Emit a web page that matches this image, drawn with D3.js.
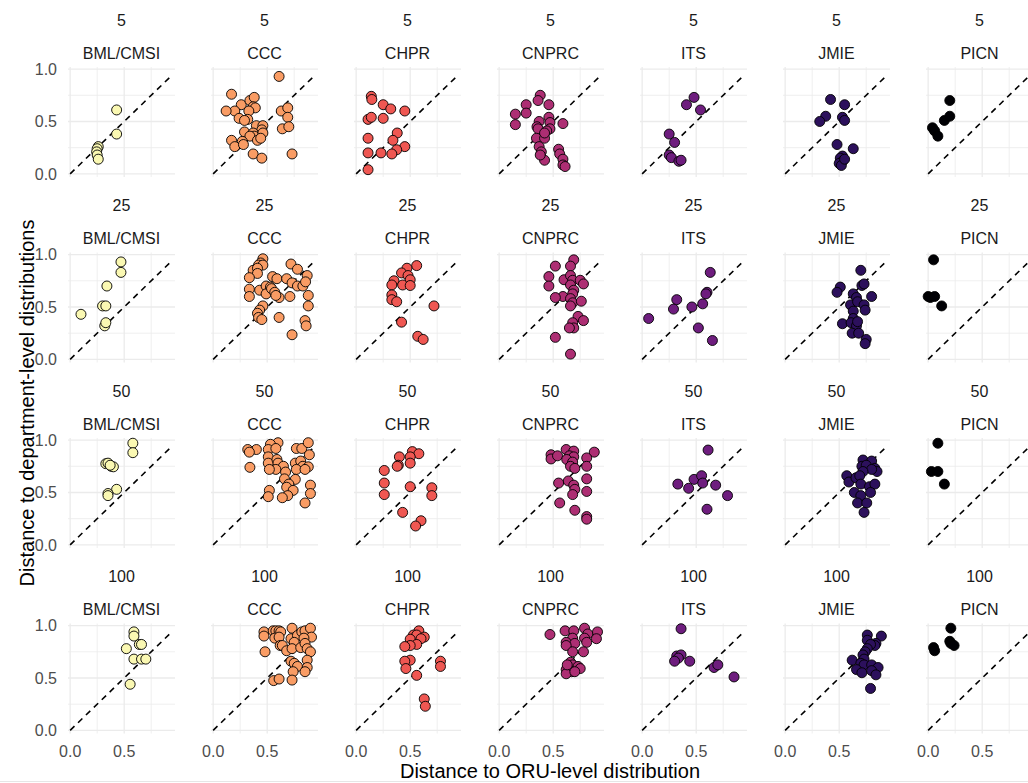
<!DOCTYPE html>
<html>
<head>
<meta charset="utf-8">
<script src="https://cdn.jsdelivr.net/npm/d3@7"></script>
<style>
  body { margin: 0; background: #fff; }
  text { font-family: "Liberation Sans", Arial, Helvetica, sans-serif; }
</style>
</head>
<body>
<svg id="chart" width="1028" height="783"></svg>
<script>
const sites = ["BML/CMSI", "CCC", "CHPR", "CNPRC", "ITS", "JMIE", "PICN"];
const levels = [5, 25, 50, 100];
const siteColors = ["#FAF8B2", "#F99C64", "#EF5752", "#AD2E73", "#6E1D7E", "#2C105C", "#000004"];
const xTicks = [0, 0.5];
const yTicks = [0, 0.5, 1];
const gridX = [0, 0.25, 0.5, 0.75];
const gridY = [0, 0.25, 0.5, 0.75, 1];

// [ORU distance, department distance] per site and level
const BML_5 = [[0.43,0.61],[0.43,0.38],[0.26,0.26],[0.25,0.24],[0.245,0.21],[0.25,0.18],[0.26,0.14]];
const CCC_5 = [[0.61,0.93],[0.17,0.76],[0.26,0.66],[0.34,0.70],[0.38,0.73],[0.37,0.64],[0.39,0.63],[0.20,0.60],[0.33,0.60],[0.12,0.60],[0.24,0.53],[0.32,0.52],[0.29,0.51],[0.63,0.60],[0.69,0.63],[0.69,0.54],[0.64,0.43],[0.70,0.45],[0.73,0.19],[0.40,0.46],[0.46,0.46],[0.45,0.42],[0.29,0.40],[0.37,0.39],[0.38,0.36],[0.34,0.36],[0.46,0.39],[0.41,0.32],[0.44,0.34],[0.17,0.32],[0.27,0.31],[0.20,0.26],[0.28,0.28],[0.37,0.19],[0.45,0.15]];
const CHPR_5 = [[0.14,0.74],[0.145,0.71],[0.25,0.66],[0.32,0.62],[0.45,0.60],[0.11,0.52],[0.14,0.54],[0.25,0.53],[0.11,0.34],[0.38,0.39],[0.34,0.32],[0.45,0.26],[0.375,0.23],[0.33,0.19],[0.23,0.20],[0.11,0.20],[0.11,0.04]];
const CNPRC_5 = [[0.38,0.75],[0.36,0.70],[0.25,0.66],[0.25,0.58],[0.46,0.66],[0.15,0.57],[0.15,0.47],[0.37,0.50],[0.46,0.54],[0.47,0.49],[0.35,0.45],[0.36,0.43],[0.47,0.43],[0.44,0.41],[0.59,0.48],[0.345,0.34],[0.42,0.34],[0.37,0.26],[0.39,0.21],[0.42,0.39],[0.55,0.235],[0.56,0.19],[0.59,0.14],[0.59,0.085],[0.61,0.07],[0.42,0.13],[0.38,0.18]];
const ITS_5 = [[0.48,0.73],[0.41,0.66],[0.54,0.61],[0.25,0.38],[0.30,0.30],[0.25,0.18],[0.27,0.155],[0.34,0.12],[0.36,0.13]];
const JMIE_5 = [[0.42,0.71],[0.55,0.66],[0.375,0.55],[0.32,0.50],[0.53,0.54],[0.55,0.51],[0.48,0.28],[0.63,0.24],[0.53,0.17],[0.51,0.15],[0.53,0.12],[0.50,0.10],[0.52,0.08],[0.55,0.14]];
const PICN_5 = [[0.20,0.70],[0.15,0.51],[0.20,0.55],[0.04,0.44],[0.06,0.41],[0.09,0.36]];

const BML_25 = [[0.47,0.93],[0.47,0.83],[0.34,0.70],[0.10,0.43],[0.30,0.51],[0.33,0.51],[0.32,0.32],[0.33,0.35]];
const CCC_25 = [[0.46,0.96],[0.44,0.92],[0.42,0.90],[0.46,0.90],[0.37,0.85],[0.41,0.87],[0.41,0.82],[0.335,0.78],[0.55,0.79],[0.59,0.77],[0.72,0.91],[0.78,0.86],[0.87,0.80],[0.68,0.77],[0.73,0.73],[0.78,0.70],[0.83,0.70],[0.855,0.74],[0.335,0.67],[0.335,0.60],[0.43,0.66],[0.49,0.70],[0.53,0.69],[0.49,0.625],[0.54,0.675],[0.57,0.64],[0.61,0.59],[0.58,0.61],[0.71,0.60],[0.88,0.61],[0.88,0.51],[0.46,0.51],[0.43,0.47],[0.41,0.44],[0.42,0.40],[0.45,0.38],[0.61,0.40],[0.85,0.37],[0.86,0.32],[0.73,0.235]];
const CHPR_25 = [[0.56,0.895],[0.47,0.87],[0.42,0.825],[0.48,0.80],[0.50,0.76],[0.35,0.75],[0.33,0.71],[0.43,0.71],[0.50,0.705],[0.33,0.615],[0.33,0.57],[0.375,0.55],[0.72,0.51],[0.42,0.355],[0.57,0.22],[0.62,0.19]];
const CNPRC_25 = [[0.69,0.95],[0.52,0.89],[0.66,0.89],[0.46,0.79],[0.60,0.76],[0.66,0.80],[0.68,0.755],[0.75,0.755],[0.78,0.72],[0.46,0.70],[0.66,0.71],[0.69,0.66],[0.68,0.625],[0.59,0.60],[0.52,0.59],[0.66,0.58],[0.68,0.54],[0.66,0.51],[0.76,0.555],[0.73,0.41],[0.78,0.37],[0.68,0.35],[0.69,0.30],[0.65,0.30],[0.52,0.21],[0.66,0.05]];
const ITS_25 = [[0.63,0.83],[0.60,0.64],[0.59,0.625],[0.32,0.57],[0.56,0.53],[0.46,0.50],[0.29,0.48],[0.06,0.39],[0.52,0.30],[0.65,0.18]];
const JMIE_25 = [[0.70,0.85],[0.71,0.705],[0.73,0.72],[0.51,0.69],[0.48,0.64],[0.63,0.625],[0.66,0.59],[0.80,0.60],[0.605,0.52],[0.67,0.55],[0.73,0.52],[0.74,0.47],[0.63,0.46],[0.63,0.39],[0.53,0.34],[0.61,0.35],[0.66,0.32],[0.67,0.36],[0.62,0.25],[0.68,0.25],[0.75,0.19],[0.74,0.15]];
const PICN_25 = [[0.05,0.95],[0.0,0.60],[0.02,0.59],[0.06,0.60],[0.125,0.51]];

const BML_50 = [[0.58,0.97],[0.58,0.88],[0.33,0.775],[0.35,0.78],[0.38,0.75],[0.40,0.745],[0.37,0.76],[0.43,0.53],[0.35,0.49],[0.35,0.47]];
const CCC_50 = [[0.60,0.975],[0.53,0.96],[0.51,0.91],[0.58,0.92],[0.40,0.91],[0.32,0.91],[0.335,0.885],[0.77,0.92],[0.82,0.92],[0.88,0.975],[0.89,0.86],[0.34,0.74],[0.51,0.84],[0.51,0.78],[0.59,0.815],[0.60,0.78],[0.65,0.75],[0.58,0.72],[0.67,0.695],[0.66,0.63],[0.76,0.78],[0.81,0.80],[0.83,0.75],[0.77,0.72],[0.88,0.745],[0.85,0.72],[0.76,0.625],[0.70,0.58],[0.68,0.55],[0.74,0.52],[0.90,0.57],[0.90,0.49],[0.69,0.47],[0.64,0.45],[0.52,0.52],[0.51,0.46],[0.85,0.40],[0.52,0.72]];
const CHPR_50 = [[0.52,0.89],[0.58,0.87],[0.50,0.84],[0.40,0.84],[0.39,0.76],[0.38,0.75],[0.50,0.78],[0.26,0.71],[0.26,0.59],[0.26,0.48],[0.50,0.555],[0.70,0.545],[0.70,0.47],[0.43,0.31],[0.60,0.23],[0.55,0.18]];
const CNPRC_50 = [[0.62,0.91],[0.69,0.895],[0.88,0.885],[0.48,0.86],[0.48,0.82],[0.54,0.85],[0.65,0.85],[0.69,0.84],[0.625,0.815],[0.68,0.79],[0.81,0.83],[0.66,0.75],[0.70,0.73],[0.81,0.75],[0.81,0.63],[0.64,0.61],[0.55,0.59],[0.69,0.57],[0.70,0.53],[0.81,0.51],[0.68,0.48],[0.56,0.40],[0.70,0.33],[0.81,0.27],[0.81,0.245]];
const ITS_50 = [[0.61,0.905],[0.33,0.58],[0.48,0.625],[0.55,0.66],[0.56,0.59],[0.43,0.54],[0.68,0.57],[0.79,0.47],[0.60,0.34]];
const JMIE_50 = [[0.72,0.81],[0.80,0.80],[0.71,0.75],[0.75,0.76],[0.83,0.73],[0.85,0.70],[0.80,0.72],[0.72,0.70],[0.57,0.66],[0.59,0.60],[0.655,0.64],[0.69,0.66],[0.70,0.58],[0.78,0.555],[0.83,0.58],[0.79,0.50],[0.64,0.50],[0.70,0.47],[0.67,0.40],[0.755,0.40],[0.73,0.31]];
const PICN_50 = [[0.09,0.97],[0.03,0.70],[0.09,0.70],[0.15,0.58]];

const BML_100 = [[0.59,0.94],[0.59,0.90],[0.52,0.78],[0.64,0.82],[0.66,0.82],[0.59,0.68],[0.66,0.68],[0.70,0.68],[0.555,0.44]];
const CCC_100 = [[0.47,0.94],[0.47,0.90],[0.555,0.95],[0.58,0.95],[0.61,0.95],[0.625,0.94],[0.57,0.88],[0.61,0.89],[0.73,0.975],[0.72,0.875],[0.78,0.905],[0.82,0.94],[0.85,0.95],[0.90,0.975],[0.91,0.89],[0.84,0.88],[0.75,0.84],[0.62,0.81],[0.64,0.81],[0.68,0.76],[0.73,0.78],[0.81,0.79],[0.85,0.83],[0.87,0.78],[0.90,0.75],[0.48,0.75],[0.72,0.66],[0.75,0.64],[0.78,0.61],[0.74,0.56],[0.87,0.67],[0.87,0.60],[0.85,0.56],[0.56,0.475],[0.61,0.49],[0.73,0.48]];
const CHPR_100 = [[0.58,0.95],[0.53,0.91],[0.56,0.91],[0.63,0.89],[0.50,0.87],[0.60,0.875],[0.56,0.82],[0.50,0.81],[0.45,0.80],[0.50,0.67],[0.45,0.66],[0.46,0.59],[0.56,0.525],[0.78,0.66],[0.78,0.61],[0.63,0.30],[0.64,0.23]];
const CNPRC_100 = [[0.47,0.915],[0.61,0.95],[0.69,0.95],[0.79,0.975],[0.82,0.92],[0.91,0.94],[0.90,0.875],[0.79,0.88],[0.68,0.88],[0.62,0.84],[0.70,0.83],[0.81,0.84],[0.62,0.81],[0.68,0.75],[0.78,0.75],[0.66,0.65],[0.68,0.625],[0.73,0.61],[0.62,0.58],[0.67,0.56],[0.75,0.59],[0.62,0.54],[0.70,0.56],[0.63,0.625]];
const ITS_100 = [[0.36,0.97],[0.32,0.71],[0.36,0.72],[0.335,0.69],[0.30,0.66],[0.44,0.66],[0.665,0.60],[0.70,0.625],[0.85,0.51]];
const JMIE_100 = [[0.76,0.91],[0.89,0.90],[0.76,0.86],[0.84,0.83],[0.83,0.81],[0.79,0.82],[0.76,0.78],[0.74,0.75],[0.72,0.72],[0.73,0.68],[0.62,0.67],[0.70,0.64],[0.73,0.625],[0.80,0.625],[0.86,0.60],[0.66,0.58],[0.71,0.55],[0.80,0.57],[0.84,0.53],[0.79,0.40]];
const PICN_100 = [[0.21,0.975],[0.05,0.79],[0.06,0.76],[0.20,0.85],[0.21,0.83],[0.24,0.81]];

const panelData = {
  "BML/CMSI": {5: BML_5, 25: BML_25, 50: BML_50, 100: BML_100},
  "CCC": {5: CCC_5, 25: CCC_25, 50: CCC_50, 100: CCC_100},
  "CHPR": {5: CHPR_5, 25: CHPR_25, 50: CHPR_50, 100: CHPR_100},
  "CNPRC": {5: CNPRC_5, 25: CNPRC_25, 50: CNPRC_50, 100: CNPRC_100},
  "ITS": {5: ITS_5, 25: ITS_25, 50: ITS_50, 100: ITS_100},
  "JMIE": {5: JMIE_5, 25: JMIE_25, 50: JMIE_50, 100: JMIE_100},
  "PICN": {5: PICN_5, 25: PICN_25, 50: PICN_50, 100: PICN_100}
};

var svg = d3.select("#chart");

var left0 = 68, top0 = 67;
var colStep = 143, rowStep = 185.5;
var pw = 107, ph = 110;

var x = d3.scaleLinear().domain([-0.02, 0.97]).range([0, pw]);
var y = d3.scaleLinear().domain([-0.03, 1.02]).range([ph, 0]);
var color = d3.scaleOrdinal().domain(sites).range(siteColors);

levels.forEach(function(lv, r) {
  sites.forEach(function(site, c) {
    var g = svg.append("g")
      .attr("transform", "translate(" + (left0 + c * colStep) + "," + (top0 + r * rowStep) + ")");

    // grid
    g.selectAll(".gx").data(gridX).enter().append("line")
      .attr("x1", d => x(d)).attr("x2", d => x(d))
      .attr("y1", 0).attr("y2", ph)
      .attr("stroke", "#ebebeb")
      .attr("stroke-width", d => (d * 4) % 2 === 0 ? 1.3 : 0.8);
    g.selectAll(".gy").data(gridY).enter().append("line")
      .attr("y1", d => y(d)).attr("y2", d => y(d))
      .attr("x1", 0).attr("x2", pw)
      .attr("stroke", "#ebebeb")
      .attr("stroke-width", d => (d * 4) % 2 === 0 ? 1.3 : 0.8);

    // strip labels
    g.append("text")
      .attr("x", pw / 2).attr("y", -41.5)
      .attr("text-anchor", "middle")
      .attr("font-size", 16).attr("fill", "#1a1a1a")
      .text(lv);
    g.append("text")
      .attr("x", pw / 2).attr("y", -8.5)
      .attr("text-anchor", "middle")
      .attr("font-size", 16).attr("fill", "#1a1a1a")
      .text(site);

    // diagonal reference
    g.append("line")
      .attr("x1", x(0)).attr("y1", y(0))
      .attr("x2", x(0.95)).attr("y2", y(0.95))
      .attr("stroke", "#000")
      .attr("stroke-width", 1.6)
      .attr("stroke-dasharray", "6 5");

    g.selectAll("circle").data(panelData[site][lv]).enter().append("circle")
      .attr("cx", d => x(d[0]))
      .attr("cy", d => y(d[1]))
      .attr("r", 5)
      .attr("fill", color(site))
      .attr("stroke", "#000")
      .attr("stroke-width", 0.9);

    if (c === 0) {
      g.selectAll(".yt").data(yTicks).enter().append("text")
        .attr("x", -11).attr("y", d => y(d) + 5.7)
        .attr("text-anchor", "end")
        .attr("font-size", 16).attr("fill", "#4d4d4d")
        .text(d => d3.format(".1f")(d));
    }
    if (r === levels.length - 1) {
      g.selectAll(".xt").data(xTicks).enter().append("text")
        .attr("x", d => x(d)).attr("y", ph + 23)
        .attr("text-anchor", "middle")
        .attr("font-size", 16).attr("fill", "#4d4d4d")
        .text(d => d3.format(".1f")(d));
    }
  });
});

// axis titles
svg.append("text")
  .attr("x", 550).attr("y", 778)
  .attr("text-anchor", "middle")
  .attr("font-size", 20).attr("fill", "#000")
  .text("Distance to ORU-level distribution");

svg.append("text")
  .attr("transform", "translate(34,403) rotate(-90)")
  .attr("text-anchor", "middle")
  .attr("font-size", 20).attr("fill", "#000")
  .text("Distance to department-level distributions");

svg.append("line")
  .attr("x1", 0).attr("x2", 1028)
  .attr("y1", 781.5).attr("y2", 781.5)
  .attr("stroke", "#e6e6e6");
</script>
</body>
</html>
